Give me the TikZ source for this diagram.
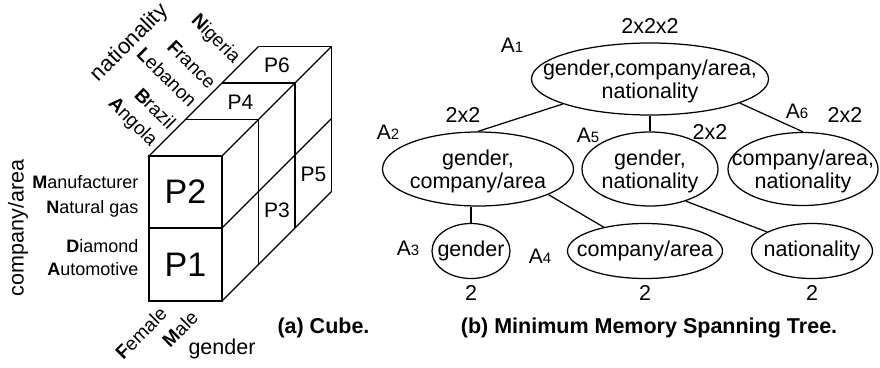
\documentclass[tikz,border=0pt]{standalone}
\usepackage{fontspec}
\setmainfont{Liberation Sans}
\usetikzlibrary{positioning, shapes.geometric}
\newcommand{\fs}[1]{\fontsize{#1}{#1}\selectfont}
\newcommand{\attr}[1]{A{\fs{15}#1}}

\begin{document}
\begin{tikzpicture}[x=1pt, y=-1pt, line width=1.25pt,
    ell/.style={draw, ellipse, inner sep=0pt, minimum height=73pt},
    small ell/.style={draw, ellipse, inner sep=0pt, minimum height=55pt},
    lab/.style={inner sep=0pt, font=\fontsize{21.5}{23}\selectfont},
    txt/.style={lab, align=center, yshift=-2pt},
    alab/.style={inner sep=0pt, font=\fs{21}},
    dim/.style={inner sep=0pt, font=\fs{18}},
    country/.style={dim, font=\fs{19}, rotate=-45, anchor=east},
    sex/.style={dim, font=\fs{19}, rotate=45},
    cell/.style={inner sep=0pt, font=\fs{21}},
    caption/.style={inner sep=0pt, font=\fs{21.5}\bfseries}]
    \useasboundingbox (0,0) rectangle (880,367);

    \begin{scope}[line width=1.3pt]
    \draw (149,156) rectangle (222,301);
    \draw (149,228) -- (222,228);
    \foreach \i in {1,2,3} {
        \draw ({149+36.5*\i},{156-36.5*\i}) -- ++(73,0);
        \draw ({222+36.5*\i},{156-36.5*\i}) -- ++(0,145);
    }
    \foreach \x/\y in {149/156, 222/156, 222/228, 222/301}
        \draw (\x,\y) -- ++(109.5,-109.5);
    \end{scope}

    \node [cell, font=\fs{34}] (p2) at (185.5,192) {P2};
    \node [cell, font=\fs{34}] (p1) at (185.5,265) {P1};
    \node [cell] (p3) at (277,210) {P3};
    \node [cell] (p4) at (240.5,102) {P4};
    \node [cell] (p5) at (313.5,174) {P5};
    \node [cell] (p6) at (277,65) {P6};

    \node [dim, anchor=east] (man) at (139,182) {\textbf{M}anufacturer};
    \node [dim, anchor=east] (nat) at (139,209) {\textbf{N}atural gas};
    \node [dim, anchor=east] (dia) at (139,246) {\textbf{D}iamond};
    \node [dim, anchor=east] (aut) at (139,269) {\textbf{A}utomotive};
    \node [lab, rotate=90] (company) at (18,228) {company/area};

    \node [country] (ang) at (154,144) {\textbf{A}ngola};
    \node [country] (bra) at (173,126) {\textbf{B}razil};
    \node [country] (leb) at (194,104) {\textbf{L}ebanon};
    \node [country] (fra) at (213,86) {\textbf{F}rance};
    \node [country] (nig) at (237,61) {\textbf{N}igeria};
    \node [lab, font=\fs{22}, rotate=45] (nationality) at (130,43) {nationality};

    \node [sex] (female) at (141,333) {\textbf{F}emale};
    \node [sex] (male) at (180,329) {\textbf{M}ale};
    \node [lab] (gender) at (222,349) {gender};
    \node [caption] (capa) at (323.5,328) {(a) Cube.};

    \node [ell, minimum width=237pt, minimum height=72pt] (gcn) at (650,79) {};
    \node [ell, minimum width=191pt, minimum height=74pt] (gc) at (478,169) {};
    \node [ell, minimum width=136pt, minimum height=74pt] (gn) at (650,169) {};
    \node [ell, minimum width=150pt] (cn) at (803,169) {};
    \node [small ell, minimum width=78pt] (g) at (471,251) {};
    \node [small ell, minimum width=155pt] (c) at (645,251) {};
    \node [small ell, minimum width=121pt] (n) at (812,251) {};

    \node [txt] at (gcn) {gender,company/area,\\nationality};
    \node [txt] at (gc) {gender,\\company/area};
    \node [txt] at (gn) {gender,\\nationality};
    \node [txt] at (cn) {company/area,\\nationality};
    \node [lab] at (g) {gender};
    \node [lab] at (c) {company/area};
    \node [lab] at (n) {nationality};

    \node [lab, above=8pt of gcn] (sgcn) {2x2x2};
    \node [lab] (sgc) at (463,115) {2x2};
    \node [lab] (sgn) at (710,132) {2x2};
    \node [lab] (scn) at (845,115) {2x2};
    \node [lab, below=6pt of g] (sg) {2};
    \node [lab, below=6pt of c] (sc) {2};
    \node [lab, below=6pt of n] (sn) {2};

    \node [alab] (a1) at (512,45) {\attr{1}};
    \node [alab] (a2) at (388,132) {\attr{2}};
    \node [alab] (a3) at (408,248) {\attr{3}};
    \node [alab] (a4) at (540,256) {\attr{4}};
    \node [alab] (a5) at (588,135) {\attr{5}};
    \node [alab] (a6) at (797,111) {\attr{6}};

    \path (gcn.196) edge (gc.north)
    (gcn.south) edge (gn.north)
    (gcn.345) edge (cn.north)
    (gc.south -| g.north) edge (g.north)
    (gc.340) edge (c.150)
    (gn.318) edge (n.157);

    \node [caption] (capb) at (649,328) {(b) Minimum Memory Spanning Tree.};
\end{tikzpicture}
\end{document}
